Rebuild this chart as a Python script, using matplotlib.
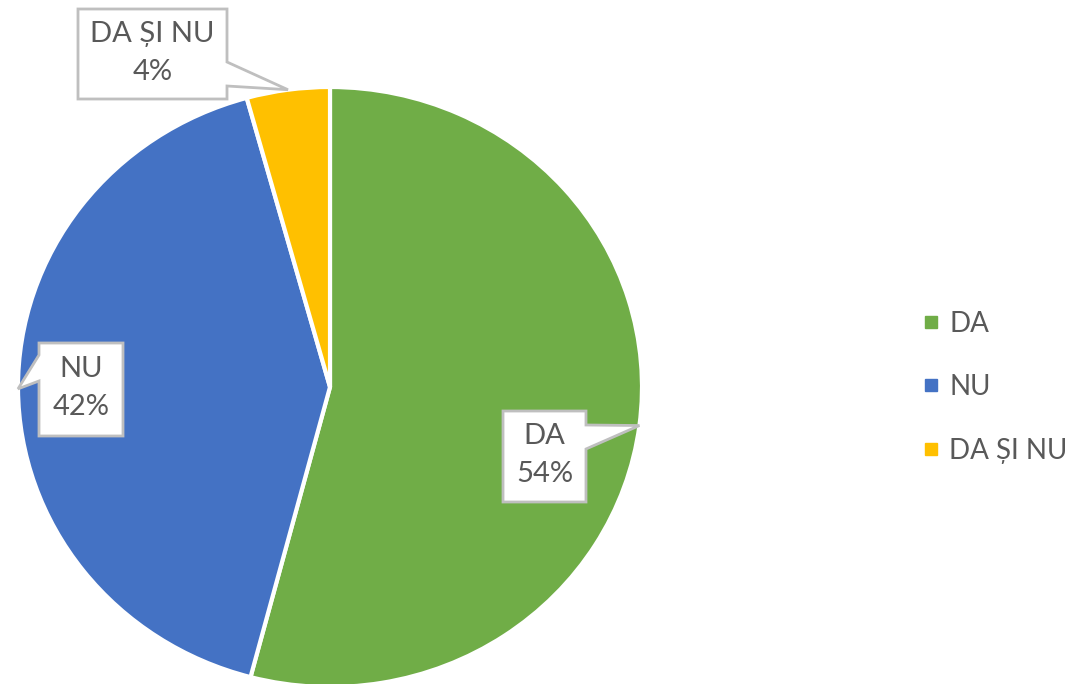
import numpy as np
import matplotlib.pyplot as plt
from matplotlib.patches import Polygon
from matplotlib.lines import Line2D

plt.rcParams['font.family'] = ['Lato', 'Open Sans', 'DejaVu Sans']

# data
labels = ['DA', 'NU', 'DA ȘI NU']
values = [54.1, 41.6, 4.3]
colors = ['#70AD47', '#4472C4', '#FFC000']

# callout boxes in pixels (left, top, right, bottom), tail side, tail y-range
boxes = [(503, 411, 586, 502, 'right', 425, 449),
         (39, 343, 123, 436, 'left', 355, 381),
         (78, 9, 227, 99, 'right', 62, 86)]

W, H = 1078, 684
fig = plt.figure(figsize=(W/100, H/100), dpi=100)
ax = fig.add_axes([18/W, -3/H, 624/W, 600/H])
wedges, _ = ax.pie(values, colors=colors, startangle=90, counterclock=False,
                   wedgeprops=dict(edgecolor='white', linewidth=3))
ax.set_aspect('auto')
ax.set_xlim(-1, 1)
ax.set_ylim(-1, 1)
ax.axis('off')

fig.canvas.draw()
total = sum(values)
to_fig = fig.transFigure.inverted()

def px(x, y):
    return (x/W, 1 - y/H)

for w, lab, v, b in zip(wedges, labels, values, boxes):
    mid = np.deg2rad((w.theta1 + w.theta2)/2)
    tip = ax.transData.transform((np.cos(mid), np.sin(mid)))
    tip = to_fig.transform(tip)
    x0, y0, x1, y1, side, t0, t1 = b
    if side == 'right':
        pts = [px(x0, y0), px(x1, y0), px(x1, t0), tip, px(x1, t1), px(x1, y1), px(x0, y1)]
    else:
        pts = [px(x0, y0), px(x1, y0), px(x1, y1), px(x0, y1), px(x0, t1), tip, px(x0, t0)]
    poly = Polygon(pts, closed=True, facecolor='white', edgecolor='#bfbfbf',
                   linewidth=2, transform=fig.transFigure, zorder=2)
    fig.add_artist(poly)
    pct = '%d%%' % round(v/total*100)
    fig.text((x0+x1)/2/W, 1 - (y0+y1)/2/H + 0.002, lab + '\n' + pct, ha='center', va='center',
             multialignment='center', fontsize=21, color='#595959', linespacing=1.58, zorder=3)

handles = [Line2D([], [], marker='s', ls='', color=c, markersize=8) for c in colors]
fig.legend(handles, labels, loc='center left', bbox_to_anchor=(899/W, 1-387/H),
           frameon=False, fontsize=20, handlelength=0.5, handletextpad=0.4,
           labelspacing=1.35, labelcolor='#595959')

fig.savefig('out.png', dpi=100)
